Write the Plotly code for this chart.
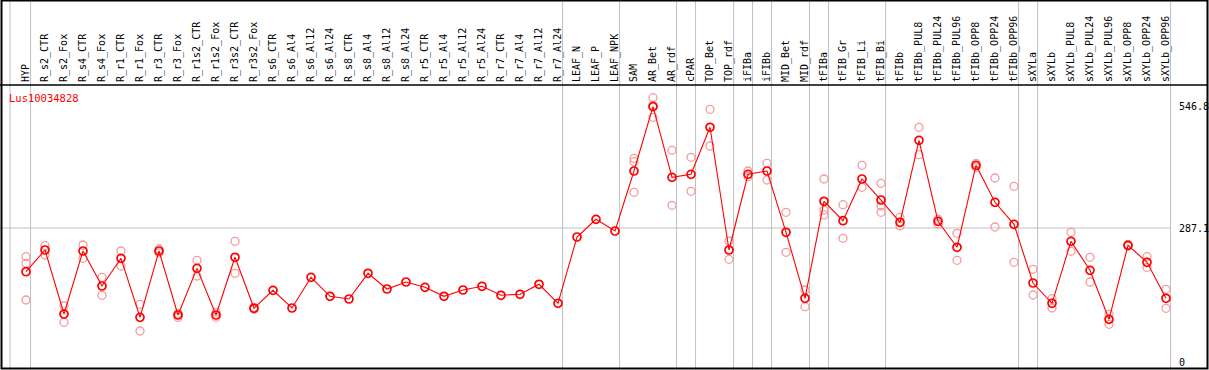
import plotly.graph_objects as go

categories = ["HYP", "R_s2_CTR", "R_s2_Fox", "R_s4_CTR", "R_s4_Fox", "R_r1_CTR", "R_r1_Fox",
              "R_r3_CTR", "R_r3_Fox", "R_r1s2_CTR", "R_r1s2_Fox", "R_r3s2_CTR", "R_r3s2_Fox",
              "R_s6_CTR", "R_s6_Al4", "R_s6_Al12", "R_s6_Al24", "R_s8_CTR", "R_s8_Al4", "R_s8_Al12",
              "R_s8_Al24", "R_r5_CTR", "R_r5_Al4", "R_r5_Al12", "R_r5_Al24", "R_r7_CTR", "R_r7_Al4",
              "R_r7_Al12", "R_r7_Al24", "LEAF_N", "LEAF_P", "LEAF_NPK", "SAM", "AR_Bet", "AR_rdf",
              "cPAR", "TOP_Bet", "TOP_rdf", "iFIBa", "iFIBb", "MID_Bet", "MID_rdf", "tFIBa",
              "tFIB_Gr", "tFIB_Li", "tFIB_Bi", "tFIBb", "tFIBb_PUL8", "tFIBb_PUL24", "tFIBb_PUL96",
              "tFIBb_OPP8", "tFIBb_OPP24", "tFIBb_OPP96", "sXYLa", "sXYLb", "sXYLb_PUL8",
              "sXYLb_PUL24", "sXYLb_PUL96", "sXYLb_OPP8", "sXYLb_OPP24", "sXYLb_OPP96"]

mean_values = [193.5, 240.0, 103.0, 237.9, 162.9, 222.2, 95.9, 237.9, 100.8, 200.7, 100.8, 224.4, 115.2,
               153.7, 115.8, 181.5, 140.9, 135.1, 190.1, 156.5, 171.5, 160.1, 140.9, 154.4, 162.3,
               143.0, 145.2, 166.6, 125.9, 267.8, 305.7, 280.7, 409.1, 546.8, 395.6, 402.0, 502.7,
               240.0, 402.0, 409.1, 277.9, 136.6, 344.3, 302.7, 392.0, 347.0, 299.3, 474.8, 301.4,
               245.8, 421.3, 342.1, 295.0, 169.3, 125.9, 258.6, 196.5, 91.6, 250.0, 213.7, 136.6]

N = None
rep1 = [225.7, 249.2, 120.1, 250.7, 181.5, 237.9, 123.7, 242.1, 104.5, 217.9, 106.6, 258.6, 117.3,
        N, N, N, N, N, N, N, N, N, N, N, N, N, N, N, N, N, N, N,
        436.3, 566.0, 453.4, 438.4, 541.2, 259.3, 409.1, 425.6, 320.7, 154.4, 392.0, 337.0, 421.3,
        382.8, 310.0, 502.7, 305.7, 275.7, 425.6, 394.1, 376.4, 198.7, 135.7, 277.9, 224.4, 102.3,
        252.0, 225.7, 155.9]
rep2 = [211.5, 229.3, 85.2, 222.2, 143.0, 205.7, 66.6, 233.7, 95.9, 184.3, 95.9, 190.1, 113.0,
        N, N, N, N, N, N, N, N, N, N, N, N, N, N, N, N, N, N, N,
        429.0, 524.1, 335.7, 365.7, 462.6, 220.1, 396.9, 389.9, 235.1, 118.6, 325.6, 265.0, 374.2,
        334.2, 291.4, 444.0, 295.7, 217.9, 417.0, 289.2, 213.7, 143.7, 115.8, 237.2, 171.5, 80.9,
        248.0, 203.0, 115.2]
rep3 = [132.9, N, N, N, N, N, N, N, N, N, N, N, N,
        N, N, N, N, N, N, N, N, N, N, N, N, N, N, N, N, N, N, N,
        363.5, 550.0, N, N, N, N, N, N, N, N, 315.0, N, N,
        320.7, N, N, N, N, N, N, N, N, N, N, N, N,
        N, N, N]

# last category of each sample group (a separator is drawn just after it)
group_ends = ["HYP", "R_r7_Al24", "LEAF_NPK", "AR_rdf", "cPAR", "TOP_rdf", "iFIBa", "iFIBb",
              "MID_rdf", "tFIBa", "tFIB_Bi", "tFIBb_OPP96", "sXYLa", "sXYLb_OPP96"]

axis_labels = [546.8, 287.1, 0]
gene_id = "Lus10034828"

W, H = 1209, 370
STEP = 19.0
X0PX = 26.0
HEADER = 85.0
FONT = "DejaVu Sans Mono"

# y mapping: pixel = 362.1 - 0.4671*v
k = 0.4671
y_zero = 362.1
ytop = (y_zero - HEADER) / k
ybot = (y_zero - H) / k
xr0 = -X0PX / STEP
xr1 = xr0 + W / STEP

fig = go.Figure()
pink = "#f29c9c"
for rep in (rep1, rep2, rep3):
    fig.add_trace(go.Scatter(
        x=categories, y=rep, mode="markers",
        marker=dict(symbol="circle-open", size=8, color=pink, line=dict(width=1.3, color=pink)),
        showlegend=False, hoverinfo="skip"))

fig.add_trace(go.Scatter(
    x=categories, y=mean_values, mode="lines+markers",
    line=dict(color="#ff0000", width=1.1),
    marker=dict(symbol="circle-open", size=8, color="#ff0000", line=dict(width=1.7, color="#ff0000")),
    showlegend=False))

shapes = []
# separators
sep_x = [-1 + 0.158] + [categories.index(c) + 0.24 for c in group_ends]
for sx in sep_x:
    shapes.append(dict(type="line", xref="x", yref="paper", x0=sx, x1=sx, y0=0, y1=1,
                       line=dict(color="#c0c0c0", width=1), layer="below"))
# horizontal grid
shapes.append(dict(type="line", xref="paper", yref="y", x0=0, x1=1170.5 / W, y0=axis_labels[1],
                   y1=axis_labels[1], line=dict(color="#c0c0c0", width=1), layer="below"))
# header separator
shapes.append(dict(type="line", xref="paper", yref="paper", x0=0, x1=1207.5 / W,
                   y0=1 - HEADER / H, y1=1 - HEADER / H, line=dict(color="black", width=1.5)))
# frame
shapes.append(dict(type="rect", xref="paper", yref="paper", x0=1.5 / W, x1=1207.5 / W,
                   y0=1 - 368.5 / H, y1=1 - 0.5 / H, line=dict(color="black", width=2)))

annotations = []
for v in axis_labels:
    annotations.append(dict(xref="paper", yref="y", x=1177 / W, y=v, text=f"{v:g}" if v else "0",
                            xanchor="left", yanchor="middle", showarrow=False,
                            font=dict(family=FONT, size=10, color="black")))
annotations.append(dict(xref="paper", yref="paper", x=7 / W, y=1 - 98 / H, text=gene_id,
                        xanchor="left", yanchor="middle", showarrow=False,
                        font=dict(family=FONT, size=10.5, color="#ff0000")))

fig.update_layout(
    width=W, height=H, margin=dict(l=0, r=0, t=0, b=0),
    paper_bgcolor="white", plot_bgcolor="white",
    shapes=shapes, annotations=annotations,
    xaxis=dict(type="category", domain=[0, 1], range=[xr0, xr1], side="top",
               tickmode="array", tickvals=categories, ticktext=categories,
               tickangle=-90, ticks="", ticklabelstandoff=2,
               showgrid=False, zeroline=False, showline=False,
               automargin=False, tickfont=dict(family=FONT, size=10, color="black")),
    yaxis=dict(domain=[0, 1 - HEADER / H], range=[ybot, ytop], showticklabels=False,
               showgrid=False, zeroline=False, showline=False, automargin=False),
)

fig.write_html("out.html", config={"displayModeBar": False},
               post_script="document.body.style.margin='0px';document.body.style.overflow='hidden';")
